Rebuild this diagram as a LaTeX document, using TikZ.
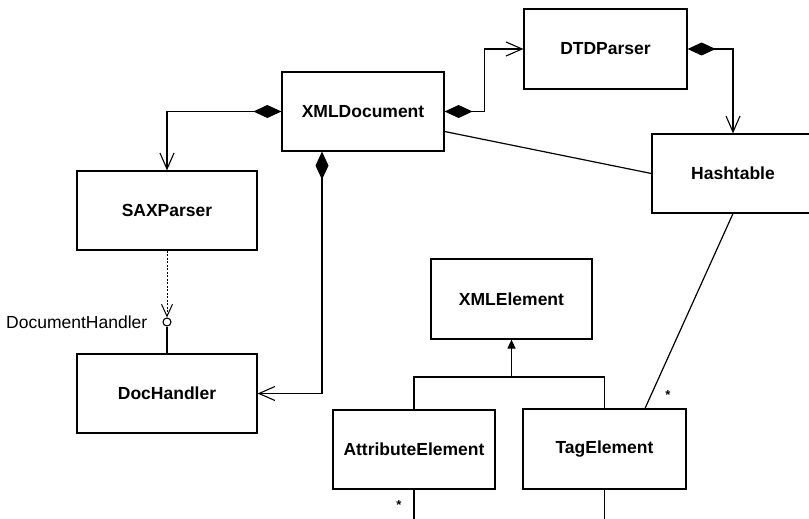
\documentclass[tikz,border=0pt]{standalone}
\usepackage{fontspec}
\setmainfont{Liberation Sans}
\usetikzlibrary{arrows.meta,calc}
\begin{document}
\begin{tikzpicture}[x=1pt,y=-1pt,
  cls/.style={draw,line width=1.2pt,minimum height=79pt,inner sep=0pt,font=\bfseries\fontsize{17.5}{20}\selectfont},
  conn/.style={line width=1.2pt},
  barb/.tip={Straight Barb[length=16pt,width=14pt,line width=1.1pt]},
  comp/.style={conn,{Diamond[length=28pt,width=13pt]}-barb},
  nav/.style={conn,-barb},
  gen/.style={conn,-{Triangle[length=9pt,width=8pt]}},
  mult/.style={font=\bfseries\fontsize{13}{13}\selectfont,inner sep=0pt}]
\useasboundingbox (0,0) rectangle (809,519);
\clip (0,0) rectangle (809,519);
% classes
\node[cls,minimum width=162pt] (xmldoc) at (363,111.5) {XMLDocument};
\node[cls,minimum width=180pt] (sax) at (167,210.5) {SAXParser};
\node[cls,minimum width=180pt] (doch) at (167,393.5) {DocHandler};
\node[cls,minimum width=163pt,minimum height=80pt] (dtd) at (605.5,49) {DTDParser};
\node[cls,minimum width=162pt] (hash) at (733,173.5) {Hashtable};
\node[cls,minimum width=161pt,minimum height=80pt] (xmlel) at (511.5,299) {XMLElement};
\node[cls,minimum width=162pt] (attr) at (414,449.5) {AttributeElement};
\node[cls,minimum width=163pt,minimum height=80pt] (tag) at (604.5,449) {TagElement};
% interface lollipop
\node[draw,circle,line width=1.1pt,inner sep=0pt,minimum size=8pt] (lol) at (167,322) {};
\node[anchor=east,inner sep=0pt,font=\fontsize{17.5}{20}\selectfont] (lollabel) at ($(lol.west)+(-15,0)$) {DocumentHandler};
\draw[conn,line width=1pt,-{Straight Barb[length=12pt,width=11pt,line width=1pt]},dash pattern=on 2pt off 1.5pt] (sax.south) -- (lol.north);
\draw[conn] (lol.south) -- (doch.north);
% compositions
\draw[comp] (xmldoc.west) -| (sax.north);
\draw[comp] ($(xmldoc.south)+(-41,0)$) |- (doch.east);
\draw[comp] (xmldoc.east) -- ++(40,0) |- (dtd.west);
\draw[comp] (dtd.east) -| (hash.north);
% associations
\draw[conn] ($(xmldoc.east)+(0,20)$) -- (hash.west);
\draw[conn] (hash.south) -- ($(tag.north)+(40.5,0)$);
\node[mult] (m1) at (668,395) {*};
% generalization
\coordinate (junc) at (511.5,377);
\draw[gen] (junc) -- (xmlel.south);
\draw[conn] (attr.north) |- (junc) -| (tag.north);
% lines leaving the bottom
\coordinate (bl) at (414,530);
\coordinate (br) at (604.5,530);
\draw[conn] (attr.south) -- (bl);
\draw[conn] (tag.south) -- (br);
\node[mult] (m2) at (399,505) {*};
\end{tikzpicture}
\end{document}
